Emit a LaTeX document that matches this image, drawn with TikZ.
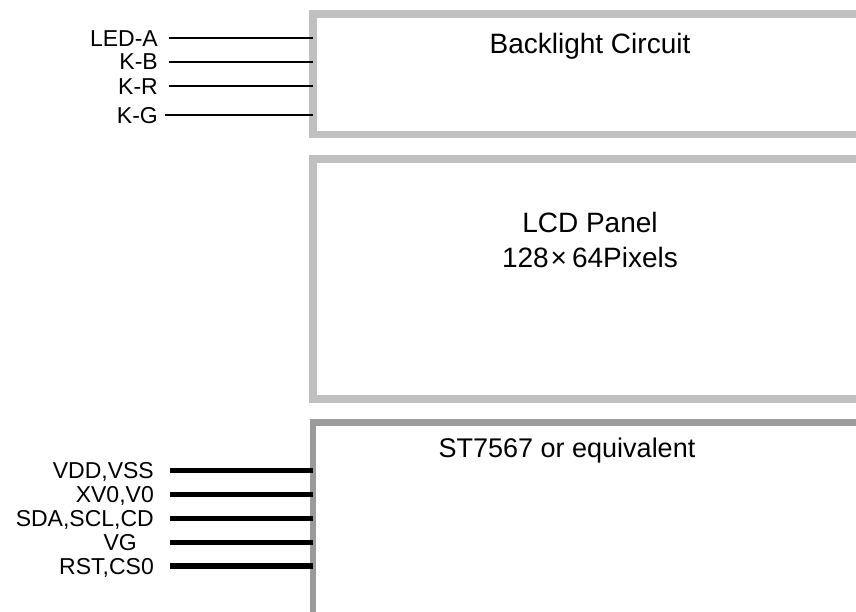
\documentclass[tikz,border=0pt]{standalone}
\usepackage{fontspec}
\setmainfont{Liberation Sans}
\definecolor{panelgray}{RGB}{192,192,192}
\definecolor{chipgray}{RGB}{155,155,155}
\tikzset{
  panel/.style={draw=panelgray, line width=7.7pt, inner sep=0pt, outer sep=0pt, anchor=north west, minimum width=600pt},
  chip/.style={panel, draw=chipgray, line width=6.3pt},
  title/.style={font=\fontsize{28}{34}\selectfont, inner sep=0pt, anchor=base},
  pinlabel/.style={font=\fontsize{23}{28}\selectfont, inner sep=0pt, anchor=east, text height=16.5pt, text depth=0pt},
  wire/.style={line width=1.7pt},
  bus/.style={line width=5.5pt}
}

\begin{document}
\begin{tikzpicture}[x=1pt,y=-1pt]
\useasboundingbox (0,0) rectangle (856,612);
\clip (0,0) rectangle (856,612);

\coordinate (wirestart) at (169,0);
\coordinate (busstart) at (170,0);

\node [pinlabel] (leda) at (158,38.3) {LED-A};
\node [pinlabel] (kb) at (158,61.7) {K-B};
\node [pinlabel] (kr) at (158,86) {K-R};
\node [pinlabel] (kg) at (158,115) {K-G};

\node [pinlabel] (vdd) at (154,470.7) {VDD,VSS};
\node [pinlabel] (xv) at (154,494.7) {XV0,V0};
\node [pinlabel] (sda) at (154,518.3) {SDA,SCL,CD};
\node [pinlabel] (vg) at (137,542.7) {VG};
\node [pinlabel] (rst) at (154,566) {RST,CS0};

\node [panel, minimum height=120.5pt] (backlight) at (313,14.1) {};
\node [panel, minimum height=239.8pt] (lcd) at (313,159) {};
\node [chip, minimum height=250pt] (driver) at (313,422.5) {};

\draw [wire] (leda -| wirestart) -- (leda -| backlight.west) ;
\draw [wire] (kb -| wirestart) -- (kb -| backlight.west) ;
\draw [wire] (kr -| wirestart) -- (kr -| backlight.west) ;
\draw [wire, line width=2.2pt] ([xshift=-4pt]kg -| wirestart) -- (kg -| backlight.west) ;

\draw [bus] (vdd -| busstart) -- (vdd -| driver.west) ;
\draw [bus] (xv -| busstart) -- (xv -| driver.west) ;
\draw [bus] (sda -| busstart) -- (sda -| driver.west) ;
\draw [bus] (vg -| busstart) -- (vg -| driver.west) ;
\draw [bus] (rst -| busstart) -- (rst -| driver.west) ;

\node [title] (bltitle) at (590,54) {Backlight Circuit};
\node [title] (lcdtitle) at (590,233) {LCD Panel};
\node [title] (lcdsize) at (590,268) {128\hspace{2pt}×\hspace{5pt}64Pixels};
\node [title, font=\fontsize{27}{32}\selectfont] (drvtitle) at (567,457) {ST7567 or equivalent};

\end{tikzpicture}
\end{document}
